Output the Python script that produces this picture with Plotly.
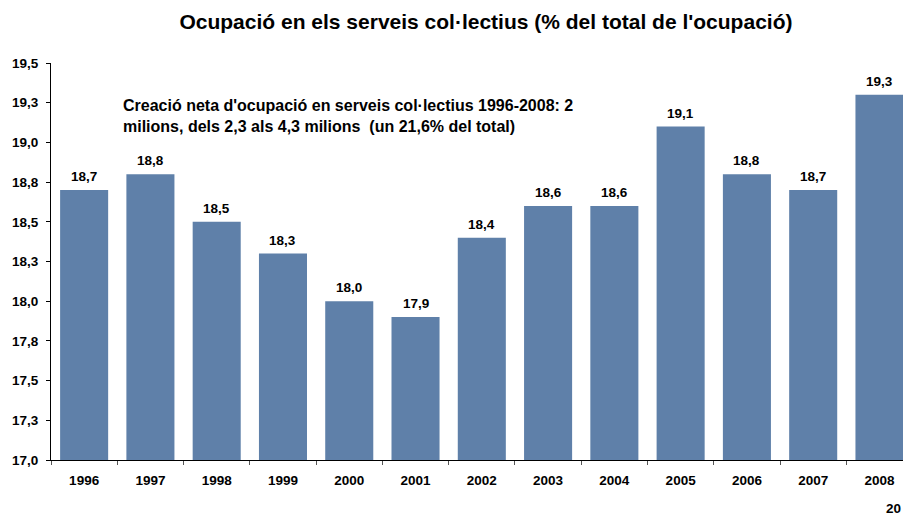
import plotly.graph_objects as go

years = ["1996", "1997", "1998", "1999", "2000", "2001", "2002",
         "2003", "2004", "2005", "2006", "2007", "2008"]
values = [18.70, 18.80, 18.50, 18.30, 18.00, 17.90, 18.40,
          18.60, 18.60, 19.10, 18.80, 18.70, 19.30]
y_tick_vals = [17.0, 17.25, 17.5, 17.75, 18.0, 18.25, 18.5, 18.75, 19.0, 19.25, 19.5]
y_tick_labels = ["17,0", "17,3", "17,5", "17,8", "18,0", "18,3", "18,5",
                 "18,8", "19,0", "19,3", "19,5"]

title_text = "Ocupació en els serveis col·lectius (% del total de l'ocupació)"
note_text = ("Creació neta d'ocupació en serveis col·lectius 1996-2008: 2<br>"
             "milions, dels 2,3 als 4,3 milions  (un 21,6% del total)")

FONT = "Liberation Sans, Arial, sans-serif"
labels = [f"{v:.1f}".replace(".", ",") for v in values]

fig = go.Figure()
fig.add_trace(go.Bar(
    x=years, y=values,
    marker=dict(color="#5F80A9", line=dict(width=0)),
    hoverinfo="skip",
))

# value labels above bars (category index positions on the category axis)
annotations = [
    dict(x=i, y=v, xref="x", yref="y", text=lab, showarrow=False,
         xanchor="center", yanchor="bottom", yshift=4,
         font=dict(family=FONT, size=13.5, color="black", weight="bold"))
    for i, (v, lab) in enumerate(zip(values, labels))
]
annotations += [
    dict(text=note_text, xref="paper", yref="paper",
         x=(121 - 51) / 852, y=(460 - 115.5) / 397,
         xanchor="left", yanchor="middle", align="left", showarrow=False,
         font=dict(family=FONT, size=16, color="black", weight="bold")),
    dict(text="20", xref="paper", yref="paper",
         x=1.0, y=(460 - 508) / 397, xanchor="right", yanchor="middle",
         showarrow=False,
         font=dict(family=FONT, size=13.5, color="black", weight="bold")),
]

fig.update_layout(
    width=903, height=516,
    margin=dict(l=51, r=0, t=63, b=56, pad=0),
    paper_bgcolor="white", plot_bgcolor="white",
    bargap=0.275,
    showlegend=False,
    font=dict(family=FONT, color="black"),
    title=dict(text=title_text, x=461 / 903, xanchor="center", xref="paper",
               y=1 - 22 / 516, yanchor="middle",
               font=dict(family=FONT, size=21, color="black", weight="bold")),
    xaxis=dict(
        type="category", range=[-0.5, 12.355],
        showline=True, linecolor="black", linewidth=1,
        ticks="outside", tickson="boundaries", ticklen=4, tickcolor="#555555",
        tickfont=dict(family=FONT, size=13.5, color="black", weight="bold"),
        ticklabelstandoff=8, showgrid=False,
    ),
    yaxis=dict(
        range=[17.0, 19.5], tickmode="array",
        tickvals=y_tick_vals, ticktext=y_tick_labels,
        showline=True, linecolor="black", linewidth=1,
        ticks="outside", ticklen=4, tickcolor="black",
        tickfont=dict(family=FONT, size=13.5, color="black", weight="bold"),
        ticklabelstandoff=5, showgrid=False, zeroline=False,
    ),
    annotations=annotations,
)

fig.write_html("out.html", config={"displayModeBar": False},
               post_script="document.body.style.margin='0';document.body.style.overflow='hidden';")
